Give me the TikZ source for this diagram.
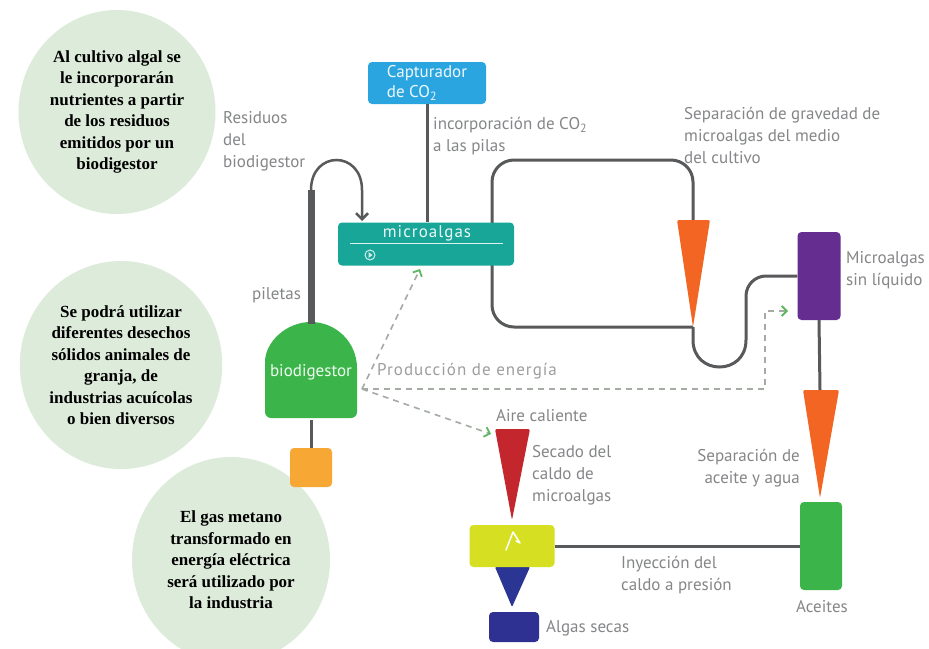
\documentclass[tikz,border=0pt]{standalone}
\usepackage{fontspec}
\setmainfont{Liberation Serif}
\newfontfamily\dsans{PT Sans}
\newfontfamily\dsanssp{PT Sans}[LetterSpace=6]
\usetikzlibrary{shapes.geometric,arrows.meta}
\definecolor{circ}{HTML}{DDEBDA}
\definecolor{capblue}{HTML}{2AA5DF}
\definecolor{tealbox}{HTML}{17A697}
\definecolor{biogreen}{HTML}{3BB54A}
\definecolor{sqorange}{HTML}{F7A733}
\definecolor{triorange}{HTML}{F26522}
\definecolor{trired}{HTML}{C4262E}
\definecolor{tribl}{HTML}{2B3593}
\definecolor{purp}{HTML}{662D91}
\definecolor{yel}{HTML}{D7DF23}
\definecolor{dkblue}{HTML}{2E3192}
\definecolor{pipec}{HTML}{58595B}
\definecolor{txtg}{HTML}{858688}
\definecolor{dashg}{HTML}{A3ABA3}
\definecolor{arrg}{HTML}{5DB860}
\tikzset{
  bubble/.style={ellipse, fill=circ, inner sep=0pt, align=center,
    font=\fontsize{17}{21.5}\selectfont\bfseries},
  box/.style={rectangle, rounded corners=4pt, inner sep=0pt},
  lbl/.style={text=txtg, align=left, inner sep=0pt,
    font=\dsans\fontsize{17}{22}\selectfont},
  pipe/.style={draw=pipec, line width=3pt},
  thinpipe/.style={draw=pipec, line width=2.5pt},
  energy/.style={draw=dashg, line width=1.6pt, dash pattern=on 6pt off 5pt,
    -{Straight Barb[color=arrg, length=5pt, width=10pt, line width=1.8pt]}},
}
\begin{document}
\begin{tikzpicture}[x=1pt,y=-1pt]
\useasboundingbox (0,0) rectangle (929,648);
\fill[white] (0,0) rectangle (929,648);

% bubbles
\node[bubble, minimum width=197, minimum height=204] (c1) at (117,112)
  {Al cultivo algal se\\le incorporarán\\nutrientes a partir\\de los residuos\\emitidos por un\\biodigestor};
\node[bubble, minimum width=198, minimum height=208] (c2) at (121,365)
  {Se podrá utilizar\\diferentes desechos\\sólidos animales de\\granja, de\\industrias acuícolas\\o bien diversos};
\node[bubble, minimum width=198, minimum height=206] (c3) at (231,560)
  {El gas metano\\transformado en\\energía eléctrica\\será utilizado por\\la industria};

% coordinates for triangles
\coordinate (t1top) at (693,220);
\coordinate (t1tip) at (693,327);
\coordinate (t2top) at (820,390);
\coordinate (t2tip) at (820,498);
\coordinate (trtop) at (512,429);
\coordinate (trtip) at (512,520);
\coordinate (tbtop) at (512,567);
\coordinate (tbtip) at (512,607);

% loop behind microalgas
\draw[pipe, rounded corners=22pt] (t1top) -- (693,160) -- (492,160) -- (492,327) -- (t1tip);

% capturador
\node[box, fill=capblue, minimum width=118, minimum height=42, text=white!92!capblue,
  align=left, font=\dsans\fontsize{17}{20}\selectfont] (cap) at (427,83)
  {Capturador\\de CO\textsubscript{2}};

% microalgas
\node[box, fill=tealbox, minimum width=176, minimum height=43] (micro) at (426,244) {};
\draw[pipe] (cap.south) -- (cap.south |- micro.north);
\node[text=white!92!tealbox, inner sep=0pt, font=\dsanssp\fontsize{17}{20}\selectfont] (mictxt) at (427,233) {microalgas};
\draw[white!85!tealbox, line width=1pt] (350,243) -- (503,243);
\draw[white!80!tealbox, line width=1pt] (370,255) circle[radius=5];
\fill[white!80!tealbox] (368.5,252) -- (372.5,255) -- (368.5,258) -- cycle;

% biodigestor
\fill[biogreen] (265,368) .. controls (265,342.6) and (285.6,322) .. (311,322)
  .. controls (336.4,322) and (357,342.6) .. (357,368)
  [rounded corners=6pt] -- (357,418) -- (265,418) -- cycle;
\node[minimum width=92, minimum height=96, inner sep=0pt, text=white!92!biogreen,
  font=\dsans\fontsize{17}{20}\selectfont] (bio) at (311,372) {biodigestor};
\node[box, fill=sqorange, minimum width=42, minimum height=39] (sq) at (311,467.5) {};
\draw[pipe] (bio.south) -- (sq.north);

% pipe bar and residuos curve
\coordinate (bartop) at (311,190);
\coordinate (resin) at (362,221);
\draw[draw=pipec, line width=7pt] (bartop) -- (311,324);
\draw[thinpipe, -{Straight Barb[length=6pt, width=12pt, line width=2.5pt]}]
  (bartop) .. controls (311,150) and (362,150) .. (362,190) -- (resin);

% triangles
\fill[triorange, rounded corners=2pt] (677,220) -- (710,220) -- (t1tip) -- cycle;
\fill[triorange, rounded corners=2pt] (803,390) -- (839,390) -- (t2tip) -- cycle;
\fill[trired, rounded corners=2pt] (495,429) -- (530,429) -- (trtip) -- cycle;
\fill[tribl, rounded corners=1pt] (495,567) -- (530,567) -- (tbtip) -- cycle;

% purple box
\node[box, fill=purp, minimum width=43, minimum height=88] (pur) at (819,276) {};
\draw[pipe] (t1tip) -- (693,340) .. controls (693,376) and (746,376) .. (746,340)
  [rounded corners=20pt] -- (746,276) -- (pur.west);
\draw[pipe] (pur.south) -- (t2top);

% aceites & yellow
\node[box, fill=biogreen, minimum width=42, minimum height=88] (ace) at (821,546) {};
\node[box, fill=yel, minimum width=85, minimum height=42] (yl) at (512,546) {};
\draw[pipe] (yl.east) -- (ace.west);
\draw[white, line width=1.5pt, line cap=round, line join=round]
  (506,550) -- (513,532) -- (520,543) -- (516,541);
\node[box, fill=dkblue, minimum width=50, minimum height=30] (alg) at (514,627) {};

% energy dashed arrows
\coordinate (e0) at (362,389);
\coordinate (micin) at (420,269);
\coordinate (purin) at (788,311);
\coordinate (redin) at (491,434);
\draw[energy] (e0) -- (micin);
\draw[energy] (e0) -- (765,389) -- (765,311) -- (purin);
\draw[energy] (e0) -- (redin);

% labels
\node[lbl, anchor=west] (lres) at (223,141) {Residuos\\del\\biodigestor};
\node[lbl, anchor=west] (lpil) at (252,295) {piletas};
\node[lbl, anchor=west] (linc) at (433,136) {incorporación de CO\textsubscript{2}\\a las pilas};
\node[lbl, anchor=west] (lsep) at (684,135) {Separación de gravedad de\\microalgas del medio\\del cultivo};
\node[lbl, anchor=west] (lmic) at (846,270) {Microalgas\\sin líquido};
\node[lbl, anchor=west, text=txtg!80, font=\dsanssp\fontsize{17}{22}\selectfont] (lprod) at (377,371) {Producción de energía};
\node[lbl, anchor=west] (laire) at (496,416) {Aire caliente};
\node[lbl, anchor=west] (lsec) at (532,475) {Secado del\\caldo de\\microalgas};
\node[lbl, anchor=east, align=right] (lacs) at (800,468) {Separación de\\aceite y agua};
\node[lbl, anchor=west] (liny) at (621,575) {Inyección del\\caldo a presión};
\node[lbl] (lace) at (822,607) {Aceites};
\node[lbl, anchor=west] (lalg) at (546,628) {Algas secas};
\end{tikzpicture}
\end{document}
